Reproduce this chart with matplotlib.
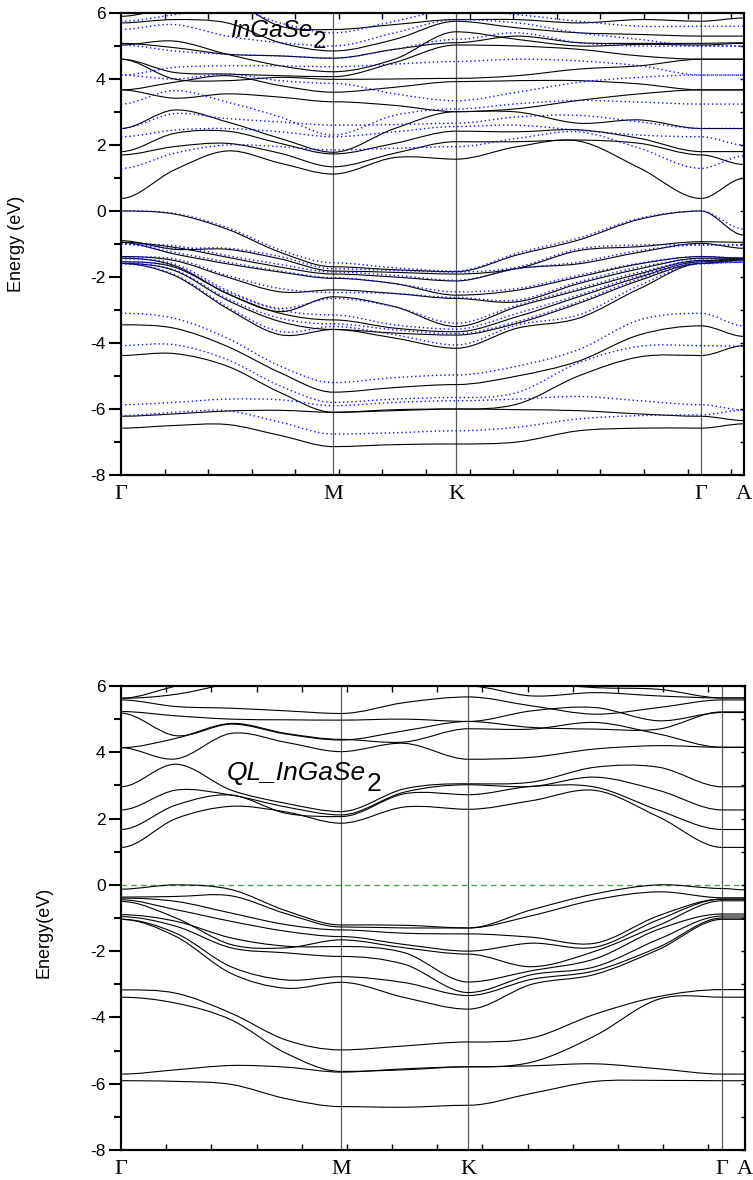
import numpy as np
import matplotlib
matplotlib.use('Agg')
import matplotlib.pyplot as plt
from matplotlib.path import Path
from matplotlib.patches import PathPatch
from matplotlib.ticker import MultipleLocator

plt.rcParams['font.family'] = ['Liberation Sans', 'DejaVu Sans']
plt.rcParams['axes.unicode_minus'] = False

# k-path nodes (Gamma, M, K, Gamma, A) for each panel
nodes_top = [0.0, 0.577, 0.911, 1.577, 1.694]
nodes_bot = [0.0, 0.577, 0.911, 1.577, 1.637]
kpt_labels = ['Γ', 'M', 'K', 'Γ', 'A']

# energies (eV) read at: G, GM/4, GM/2, 3GM/4, M, MK/2, K, KG/4, KG/2, 3KG/4, G, A
# ---- top panel, InGaSe2, solid black bands
top_cb = [
    [0.38, 1.24, 1.82, 1.45, 1.12, 1.62, 1.57, 1.95, 2.12, 1.30, 0.38, 0.99],
    [1.70, 1.95, 2.05, 1.75, 1.34, 1.75, 2.10, 2.10, 2.15, 2.05, 1.70, 1.41],
    [1.80, 2.35, 2.42, 2.05, 1.73, 2.05, 2.42, 2.40, 2.46, 2.20, 1.80, 1.80],
    [2.50, 3.06, 2.70, 2.20, 1.78, 2.50, 3.01, 3.00, 2.66, 2.76, 2.50, 2.50],
    [3.67, 3.42, 3.55, 3.45, 3.31, 3.20, 3.01, 3.10, 3.35, 3.55, 3.67, 3.67],
    [3.67, 3.90, 4.10, 3.80, 3.60, 3.75, 3.92, 3.95, 3.95, 3.85, 3.67, 3.67],
    [4.60, 4.00, 3.95, 4.05, 3.99, 4.00, 4.02, 4.10, 4.30, 4.40, 4.60, 4.60],
    [4.60, 4.20, 4.15, 4.10, 4.07, 4.50, 5.03, 5.00, 4.90, 4.70, 4.60, 4.60],
    [5.03, 5.15, 4.75, 4.40, 4.22, 4.60, 5.43, 5.20, 5.00, 5.05, 5.03, 5.08],
    [5.08, 4.95, 4.75, 4.70, 4.63, 4.90, 5.10, 5.30, 5.10, 5.08, 5.08, 5.10],
    [5.70, 5.80, 5.70, 5.10, 4.85, 5.20, 5.75, 5.55, 5.40, 5.35, 5.30, 5.30],
    [5.90, 6.20, 6.40, 5.60, 5.50, 5.65, 5.80, 5.80, 5.70, 5.80, 5.75, 5.85],
]
top_vb = [
    [0.00, -0.09, -0.55, -1.25, -1.69, -1.78, -1.84, -1.33, -0.88, -0.25, 0.00, -0.73],
    [-0.90, -1.16, -1.16, -1.45, -1.82, -1.86, -1.91, -1.74, -1.20, -1.08, -0.93, -0.95],
    [-0.95, -1.10, -1.40, -1.70, -1.91, -2.00, -2.12, -1.74, -1.60, -1.25, -0.98, -1.13],
    [-0.95, -1.30, -1.60, -1.85, -2.04, -2.20, -2.55, -2.40, -2.00, -1.60, -1.38, -1.43],
    [-1.38, -1.50, -2.00, -2.45, -2.39, -2.50, -2.65, -2.75, -2.20, -1.75, -1.43, -1.43],
    [-1.43, -1.65, -2.50, -3.05, -2.60, -2.90, -3.50, -2.90, -2.40, -1.90, -1.50, -1.45],
    [-1.54, -1.70, -2.50, -3.10, -3.30, -3.55, -3.66, -3.20, -2.60, -2.00, -1.54, -1.45],
    [-1.59, -1.80, -2.70, -3.35, -3.59, -3.70, -3.76, -3.40, -2.80, -2.10, -1.59, -1.48],
    [-1.59, -1.95, -2.95, -3.75, -3.59, -3.85, -4.16, -3.55, -3.25, -2.35, -1.59, -1.48],
    [-3.45, -3.55, -4.10, -4.90, -5.49, -5.35, -5.26, -5.00, -4.55, -3.75, -3.48, -3.80],
    [-4.38, -4.32, -4.70, -5.50, -6.10, -6.05, -6.00, -5.85, -5.00, -4.42, -4.38, -4.08],
    [-6.22, -6.15, -6.06, -6.04, -6.10, -6.02, -6.00, -6.02, -6.05, -6.15, -6.22, -6.35],
    [-6.58, -6.50, -6.47, -6.80, -7.14, -7.08, -7.06, -7.00, -6.66, -6.58, -6.58, -6.45],
]
# ---- top panel, blue dotted bands
top_cb_dot = [
    [1.29, 1.75, 2.00, 1.95, 1.85, 1.90, 1.95, 2.20, 2.40, 1.90, 1.29, 1.67],
    [2.25, 2.45, 2.50, 2.40, 2.25, 2.40, 2.56, 2.60, 2.45, 2.30, 2.25, 2.00],
    [2.50, 2.95, 2.80, 2.70, 2.60, 2.62, 2.66, 2.85, 2.90, 2.70, 2.50, 2.50],
    [3.24, 3.65, 3.30, 2.85, 2.30, 2.90, 3.09, 3.25, 3.35, 3.30, 3.24, 3.24],
    [4.12, 4.00, 4.15, 3.95, 3.87, 3.55, 3.34, 3.60, 3.90, 4.05, 4.12, 4.12],
    [4.12, 4.35, 4.40, 4.40, 4.37, 4.45, 4.53, 4.60, 4.55, 4.40, 4.12, 4.12],
    [5.03, 4.85, 4.75, 4.70, 4.63, 4.90, 5.20, 5.40, 5.10, 5.00, 5.00, 5.00],
    [5.50, 5.65, 5.30, 5.10, 5.00, 5.40, 5.80, 5.70, 5.40, 5.20, 5.00, 5.00],
    [5.75, 5.95, 6.20, 5.70, 5.40, 5.75, 6.10, 5.95, 5.75, 5.60, 5.60, 5.60],
]
top_vb_dot = [
    [0.00, -0.07, -0.50, -1.18, -1.57, -1.72, -1.82, -1.28, -0.82, -0.22, 0.00, -0.55],
    [-1.00, -1.13, -1.13, -1.38, -1.75, -1.80, -1.85, -1.70, -1.15, -1.03, -1.03, -1.03],
    [-1.00, -1.05, -1.35, -1.62, -1.85, -1.95, -2.10, -1.75, -1.55, -1.20, -1.03, -1.03],
    [-1.00, -1.25, -1.55, -1.82, -2.02, -2.20, -2.45, -2.35, -1.95, -1.58, -1.38, -1.43],
    [-1.40, -1.45, -1.95, -2.35, -2.47, -2.50, -2.62, -2.70, -2.15, -1.70, -1.45, -1.48],
    [-1.45, -1.60, -2.40, -2.95, -2.65, -2.90, -3.40, -2.85, -2.35, -1.85, -1.50, -1.55],
    [-1.55, -1.68, -2.45, -3.00, -3.15, -3.45, -3.58, -3.10, -2.55, -1.95, -1.55, -1.55],
    [-1.60, -1.78, -2.65, -3.25, -3.42, -3.60, -3.72, -3.35, -2.75, -2.05, -1.58, -1.55],
    [-1.60, -1.92, -2.90, -3.65, -3.50, -3.75, -4.06, -3.45, -3.15, -2.25, -1.60, -1.55],
    [-3.10, -3.25, -3.85, -4.70, -5.20, -5.05, -4.97, -4.70, -4.20, -3.30, -3.10, -3.48],
    [-4.08, -4.05, -4.50, -5.30, -5.80, -5.70, -5.65, -5.50, -4.60, -4.10, -4.08, -4.10],
    [-5.87, -5.80, -5.70, -5.72, -5.90, -5.80, -5.75, -5.70, -5.62, -5.75, -5.87, -6.03],
    [-6.20, -6.10, -6.05, -6.40, -6.76, -6.72, -6.66, -6.55, -6.30, -6.20, -6.18, -6.03],
]
# ---- bottom panel, QL_InGaSe2
bot_cb = [
    [1.13, 2.00, 2.37, 2.20, 1.86, 2.35, 2.28, 2.54, 2.85, 2.05, 1.13, 1.13],
    [1.67, 2.41, 2.71, 2.16, 2.06, 2.75, 2.72, 2.97, 2.95, 2.25, 1.67, 1.67],
    [2.26, 2.86, 2.71, 2.35, 2.11, 2.80, 3.02, 2.97, 3.25, 2.85, 2.26, 2.26],
    [2.96, 3.64, 2.86, 2.46, 2.21, 2.90, 3.05, 3.10, 3.55, 3.55, 2.96, 2.96],
    [4.14, 3.80, 4.57, 4.30, 4.02, 4.27, 3.79, 3.85, 4.10, 4.20, 4.15, 4.15],
    [4.14, 4.42, 4.87, 4.57, 4.39, 4.31, 4.71, 4.70, 4.90, 4.55, 4.15, 4.15],
    [5.18, 4.50, 4.85, 4.55, 4.37, 4.65, 4.93, 5.25, 5.35, 4.95, 5.20, 5.20],
    [5.23, 5.10, 5.00, 4.98, 4.97, 5.00, 4.93, 4.75, 4.70, 4.70, 5.22, 5.22],
    [5.58, 5.38, 5.33, 5.25, 5.17, 5.50, 5.67, 5.40, 5.15, 5.35, 5.58, 5.58],
    [5.63, 5.75, 6.10, 6.50, 6.80, 6.30, 6.00, 5.70, 5.80, 5.70, 5.64, 5.64],
    [5.63, 6.00, 6.40, 6.50, 6.50, 6.30, 6.05, 6.10, 5.95, 5.90, 5.64, 5.64],
]
bot_vb = [
    [-0.13, 0.00, -0.14, -0.78, -1.21, -1.22, -1.30, -0.75, -0.27, 0.00, -0.11, -0.15],
    [-0.37, -0.35, -0.33, -0.87, -1.27, -1.30, -1.30, -0.93, -0.45, -0.21, -0.39, -0.39],
    [-0.40, -0.50, -0.85, -1.20, -1.36, -1.46, -1.48, -1.58, -1.76, -0.93, -0.43, -0.43],
    [-0.45, -0.75, -1.10, -1.40, -1.56, -1.80, -2.00, -1.76, -1.88, -1.05, -0.43, -0.43],
    [-0.50, -1.00, -1.80, -1.90, -1.66, -1.90, -2.09, -2.47, -2.00, -1.22, -0.48, -0.48],
    [-0.90, -1.10, -1.60, -1.85, -1.86, -2.05, -2.93, -2.59, -2.23, -1.34, -0.88, -0.88],
    [-0.96, -1.25, -1.90, -2.05, -2.16, -2.40, -3.25, -2.71, -2.47, -1.64, -0.94, -0.94],
    [-1.04, -1.46, -2.47, -2.87, -2.77, -2.95, -3.34, -2.85, -2.59, -1.88, -1.00, -1.00],
    [-1.04, -1.56, -2.67, -3.12, -2.94, -3.40, -3.75, -3.00, -2.70, -1.95, -1.04, -1.04],
    [-3.17, -3.27, -3.87, -4.68, -4.98, -4.86, -4.74, -4.62, -3.90, -3.37, -3.16, -3.16],
    [-3.39, -3.57, -4.07, -5.08, -5.63, -5.58, -5.49, -5.35, -4.55, -3.45, -3.39, -3.39],
    [-5.71, -5.58, -5.45, -5.50, -5.65, -5.55, -5.49, -5.46, -5.40, -5.55, -5.71, -5.71],
    [-5.91, -5.93, -6.02, -6.45, -6.69, -6.71, -6.65, -6.29, -5.93, -5.90, -5.91, -5.91],
]

FLAT = (0, 4, 6, 10, 11)  # high-symmetry points: zero slope


def kgrid(nodes):
    g, m, k, g2, a = nodes
    return ([g + f * (m - g) for f in (0, .25, .5, .75)] + [m, (m + k) / 2, k]
            + [k + f * (g2 - k) for f in (.25, .5, .75)] + [g2, a])


def band_path(xs, ys):
    n = len(xs)
    sl = []
    for i in range(n):
        if i in FLAT:
            sl.append(0.0)
        else:
            sl.append((ys[i + 1] - ys[i - 1]) / (xs[i + 1] - xs[i - 1]))
    verts = [(xs[0], ys[0])]
    codes = [Path.MOVETO]
    for i in range(n - 1):
        dx = xs[i + 1] - xs[i]
        verts += [(xs[i] + dx / 3, ys[i] + sl[i] * dx / 3),
                  (xs[i + 1] - dx / 3, ys[i + 1] - sl[i + 1] * dx / 3),
                  (xs[i + 1], ys[i + 1])]
        codes += [Path.CURVE4] * 3
    return Path(verts, codes)


def draw_bands(ax, xs, bands, **kw):
    for b in bands:
        ax.add_patch(PathPatch(band_path(xs, b), fill=False, **kw))


def style(ax, nodes):
    ax.set_xlim(nodes[0], nodes[-1])
    ax.set_ylim(-8, 6)
    for xv in nodes[1:-1]:
        ax.axvline(xv, color='#5a5a5a', lw=0.9, zorder=1)
    ax.set_xticks(nodes)
    ax.set_xticklabels(kpt_labels, fontfamily='Liberation Serif', fontsize=16)
    ax.xaxis.set_minor_locator(MultipleLocator(0.1185))
    ax.tick_params(axis='x', which='major', length=0, pad=7)
    ax.tick_params(axis='x', which='minor', direction='in', length=4, width=1,
                   top=True, bottom=True)
    ax.set_yticks(range(-8, 7, 2))
    ax.yaxis.set_minor_locator(MultipleLocator(1))
    ax.tick_params(axis='y', which='major', direction='out', length=9, width=1.5,
                   labelsize=12.5, pad=2)
    ax.tick_params(axis='y', which='minor', direction='out', length=5, width=1.5)
    for s in ax.spines.values():
        s.set_linewidth(1.5)
    tw = ax.twinx()
    tw.set_ylim(-8, 6)
    tw.yaxis.set_major_locator(MultipleLocator(1))
    tw.tick_params(direction='in', length=3, width=1, labelright=False)
    for s in tw.spines.values():
        s.set_linewidth(1.5)


fig = plt.figure(figsize=(7.53, 11.8), dpi=100)
ax1 = fig.add_axes([121 / 753, 1 - 475 / 1180, 623 / 753, 462 / 1180])
ax2 = fig.add_axes([121 / 753, 1 - 1150 / 1180, 624 / 753, 464 / 1180])

xt = kgrid(nodes_top)
draw_bands(ax1, xt, top_cb + top_vb, edgecolor='k', lw=0.8, zorder=2)
draw_bands(ax1, xt, top_cb_dot + top_vb_dot, edgecolor='#1010ff', lw=1.0,
           linestyle=(0, (1, 2)), zorder=3)
style(ax1, nodes_top)
ax1.set_ylabel('Energy (eV)', fontsize=13)
ax1.yaxis.set_label_coords(-0.154, 0.5)

xb = kgrid(nodes_bot)
draw_bands(ax2, xb, bot_cb + bot_vb, edgecolor='k', lw=0.8, zorder=2)
ax2.axhline(0, color='#4ea04e', lw=1.0, dashes=(4, 3), zorder=1)
style(ax2, nodes_bot)
ax2.set_ylabel('Energy(eV)', fontsize=13)
ax2.yaxis.set_label_coords(-0.109, 0.468)

t1 = fig.text(230 / 753, 1 - 37 / 1180, 'InGaSe', style='italic', fontsize=17.5,
              va='baseline')
ax1.annotate('2', xy=(1, 0), xycoords=t1, xytext=(0, -4),
             textcoords='offset points', fontsize=17.5, va='baseline')
t2 = fig.text(227 / 753, 1 - 780 / 1180, 'QL_InGaSe', style='italic', fontsize=19,
              va='baseline')
ax2.annotate('2', xy=(1, 0), xycoords=t2, xytext=(0, -4),
             textcoords='offset points', fontsize=19, va='baseline')

fig.savefig('out.png', dpi=100)
